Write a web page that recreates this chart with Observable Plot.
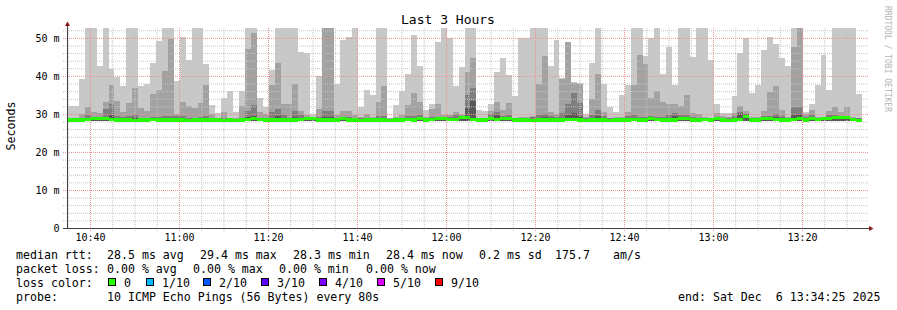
<!DOCTYPE html>
<html>
<head>
<meta charset="utf-8">
<script src="https://cdn.jsdelivr.net/npm/d3@7"></script>
<script src="https://cdn.jsdelivr.net/npm/@observablehq/plot@0.6"></script>
<style>
html,body{margin:0;padding:0;background:#fff;}
#chart{position:relative;width:897px;height:310px;overflow:hidden;background:#fff;}
#chart svg{position:absolute;left:0;top:0;}
</style>
</head>
<body>
<div id="chart"></div>
<script>
// ---------- data ----------
const title = "Last 3 Hours";
const yLabel = "Seconds";
const watermark = "RRDTOOL / TOBI OETIKER";
const startTime = new Date(Date.UTC(2025, 11, 6, 10, 34, 50));
const endTime = new Date(Date.UTC(2025, 11, 6, 13, 34, 50));
const stepSeconds = 80;
const yTicks = [0, 10, 20, 30, 40, 50];
const yMax = 52.6;
const smokeBase = 28.2;

// ping 10 (outermost smoke, lightest)
const ping10 = [32.2, 32.0, 39.3, 52.6, 52.6, 42.5, 52.6, 41.7, 39.6, 37.3,
 52.6, 52.6, 37.3, 38.0, 43.5, 49.1, 52.6, 52.6, 38.7, 50.3,
 44.1, 52.6, 52.6, 43.2, 32.3, 30.3, 34.3, 36.0, 30.5, 36.0,
 52.6, 52.6, 34.3, 31.8, 41.5, 52.6, 52.6, 52.6, 52.6, 46.4,
 46.1, 30.1, 40.0, 52.6, 52.6, 38.0, 49.4, 50.3, 52.6, 31.7,
 36.4, 34.9, 52.6, 52.6, 28.9, 32.3, 36.0, 40.6, 50.7, 42.5,
 31.1, 32.5, 49.0, 52.6, 49.9, 37.3, 42.4, 52.6, 52.6, 31.1,
 30.8, 32.7, 41.1, 44.6, 40.2, 34.6, 50.1, 50.1, 52.6, 52.6,
 52.6, 42.5, 49.4, 39.5, 48.9, 38.4, 38.2, 30.1, 43.5, 52.6,
 38.0, 31.7, 30.5, 34.9, 37.7, 52.6, 52.6, 45.2, 50.1, 52.6,
 40.6, 47.6, 37.7, 52.6, 52.6, 45.0, 52.6, 52.6, 44.3, 32.7,
 30.3, 30.3, 34.6, 46.1, 50.1, 35.4, 37.5, 46.9, 50.3, 48.3,
 44.8, 42.5, 52.6, 52.6, 30.5, 32.7, 37.5, 45.4, 36.2, 52.6,
 52.6, 52.6, 52.6, 35.2];
// ping 9
const ping9 = [29.0, 28.9, 29.9, 31.7, 30.6, 30.2, 33.2, 37.5, 33.3, 30.6,
 33.0, 36.9, 31.5, 30.9, 35.3, 36.4, 41.2, 49.6, 30.0, 33.2,
 32.2, 31.5, 33.0, 37.5, 30.1, 29.0, 30.5, 29.0, 28.8, 32.0,
 47.2, 51.4, 30.5, 29.9, 37.7, 43.5, 32.7, 32.7, 38.0, 30.8,
 29.6, 28.9, 31.4, 52.6, 52.6, 29.6, 30.8, 30.8, 29.6, 29.2,
 30.1, 29.2, 33.2, 37.3, 28.8, 29.3, 29.6, 32.3, 35.4, 33.2,
 29.2, 31.4, 32.7, 29.6, 29.8, 30.5, 30.0, 40.9, 44.8, 29.0,
 28.9, 30.8, 33.2, 31.1, 33.0, 29.0, 29.2, 29.2, 29.5, 38.0,
 45.3, 30.5, 30.1, 39.3, 48.8, 38.2, 38.0, 29.2, 34.0, 40.4,
 30.5, 29.0, 29.2, 29.2, 30.5, 37.5, 45.4, 43.2, 34.3, 36.1,
 33.2, 32.7, 32.5, 32.0, 34.9, 30.3, 30.0, 29.2, 29.0, 30.3,
 29.4, 29.2, 30.3, 32.0, 30.8, 29.2, 29.2, 30.8, 35.8, 37.3,
 31.1, 29.1, 47.5, 52.6, 29.9, 31.1, 29.2, 29.2, 30.8, 31.7,
 30.5, 31.7, 29.1, 29.0];
// ping 8
const ping8 = [28.8, 28.7, 28.9, 29.6, 29.3, 29.2, 31.4, 32.7, 29.5, 29.2,
 29.4, 29.8, 29.0, 28.9, 29.2, 29.3, 29.4, 29.4, 29.5, 29.4,
 29.0, 29.0, 29.3, 29.5, 29.0, 28.8, 28.9, 28.8, 28.7, 29.0,
 30.8, 32.3, 29.0, 28.9, 30.4, 31.4, 29.6, 29.0, 30.8, 29.6,
 29.0, 28.7, 29.3, 30.9, 30.9, 29.0, 29.3, 29.3, 29.0, 28.9,
 29.0, 28.8, 29.5, 29.5, 28.6, 28.9, 29.0, 29.4, 29.4, 29.6,
 28.9, 29.2, 29.3, 29.0, 29.2, 29.6, 29.4, 35.0, 36.7, 28.8,
 28.7, 29.9, 30.4, 29.5, 29.6, 28.8, 28.9, 28.9, 29.2, 29.8,
 30.0, 29.4, 29.3, 30.3, 32.5, 35.4, 33.0, 28.9, 29.8, 31.1,
 29.5, 28.8, 28.9, 28.9, 29.4, 29.7, 29.1, 29.1, 29.5, 29.1,
 29.3, 29.8, 30.3, 29.6, 29.6, 29.2, 29.0, 28.9, 28.8, 29.3,
 29.0, 28.9, 29.4, 30.5, 29.8, 28.9, 28.9, 29.5, 29.4, 30.0,
 29.5, 28.9, 31.8, 31.8, 29.3, 29.6, 28.9, 28.9, 29.6, 29.7,
 29.2, 29.1, 28.9, 28.8];
// ping 7
const ping7 = [28.6, 28.6, 28.6, 28.9, 28.9, 28.8, 29.2, 29.8, 28.7, 28.6,
 28.8, 29.0, 28.6, 28.6, 28.7, 28.7, 28.8, 28.8, 28.7, 28.8,
 28.6, 28.6, 28.7, 28.8, 28.6, 28.6, 28.6, 28.6, 28.5, 28.6,
 29.2, 29.5, 28.6, 28.6, 29.0, 29.4, 28.8, 28.6, 29.2, 28.8,
 28.8, 28.6, 28.7, 29.3, 29.3, 28.6, 28.8, 28.7, 28.6, 28.5,
 28.6, 28.5, 28.8, 28.8, 28.5, 28.6, 28.6, 28.7, 28.8, 29.0,
 28.6, 28.7, 29.1, 28.8, 28.7, 29.0, 29.3, 31.5, 33.5, 28.6,
 28.6, 29.2, 29.6, 29.2, 29.0, 28.6, 28.6, 28.6, 28.7, 29.0,
 29.1, 28.8, 28.7, 29.0, 29.6, 30.2, 29.5, 28.6, 28.9, 29.4,
 28.8, 28.6, 28.6, 28.6, 28.8, 29.0, 28.8, 28.8, 29.0, 28.8,
 28.8, 29.0, 29.4, 29.0, 29.0, 28.8, 28.6, 28.7, 28.6, 29.0,
 28.6, 28.6, 28.8, 30.0, 29.9, 28.6, 28.6, 29.0, 29.1, 29.2,
 28.8, 28.6, 29.8, 30.0, 28.8, 29.0, 28.6, 29.0, 29.2, 29.2,
 29.0, 29.1, 28.6, 28.5];
// median rtt
const medianRtt = [28.4, 28.4, 28.4, 28.5, 28.8, 28.8, 28.7, 28.6, 28.4, 28.4,
 28.4, 28.3, 28.4, 28.4, 28.6, 28.4, 28.4, 28.4, 28.4, 28.4,
 28.3, 28.4, 28.4, 28.4, 28.4, 28.4, 28.3, 28.4, 28.3, 28.4,
 28.5, 28.8, 28.5, 28.4, 28.4, 28.4, 28.4, 28.4, 28.4, 28.5,
 28.8, 28.7, 28.4, 28.4, 28.4, 28.4, 28.7, 28.4, 28.4, 28.3,
 28.4, 28.4, 28.4, 28.4, 28.3, 28.4, 28.4, 28.5, 28.4, 28.8,
 28.4, 28.5, 28.9, 28.7, 28.5, 28.6, 29.0, 29.0, 28.6, 28.4,
 28.4, 28.8, 28.5, 28.9, 28.8, 28.4, 28.4, 28.4, 28.3, 28.4,
 28.4, 28.4, 28.4, 28.4, 28.5, 28.5, 28.4, 28.3, 28.4, 28.4,
 28.4, 28.3, 28.4, 28.4, 28.4, 28.5, 28.4, 28.4, 28.8, 28.5,
 28.4, 28.4, 28.4, 28.8, 28.7, 28.4, 28.4, 28.5, 28.4, 28.8,
 28.4, 28.3, 28.4, 28.5, 29.4, 28.4, 28.4, 28.7, 28.9, 28.5,
 28.4, 28.4, 28.5, 28.8, 28.4, 28.7, 28.5, 28.9, 28.9, 29.0,
 29.0, 29.0, 28.5, 28.3];

// legend texts
const legendLabels = ["median rtt:", "packet loss:", "loss color:", "probe:"];
const rttStats = ["28.5 ms avg", "29.4 ms max", "28.3 ms min", "28.4 ms now", "0.2 ms sd", "175.7", "am/s"];
const lossStats = ["0.00 % avg", "0.00 % max", "0.00 % min", "0.00 % now"];
const lossColorLabels = ["0", "1/10", "2/10", "3/10", "4/10", "5/10", "9/10"];
const lossColors = ["#26ff00", "#00b8ff", "#0059ff", "#5e00ff", "#7e00ff", "#dd00ff", "#ff0000"];
const probeText = "10 ICMP Echo Pings (56 Bytes) every 80s";
const endText = "end: Sat Dec\u00a0\u00a06 13:34:25 2025";

// ---------- build ----------
const rows = ping10.map((v, i) => ({
  t: new Date(startTime.getTime() + i * stepSeconds * 1000),
  p10: v, p9: ping9[i], p8: ping8[i], p7: ping7[i], med: medianRtt[i]
}));
// closing point so the last step keeps its full width
const last = rows[rows.length - 1];
rows.push({...last, t: new Date(last.t.getTime() + stepSeconds * 1000)});

const allFive = d3.utcMinute.every(5).range(startTime, endTime);
const majorX = allFive.filter(d => d.getUTCMinutes() % 20 === 0);
const minorX = allFive.filter(d => d.getUTCMinutes() % 20 !== 0);
const hLines = d3.range(2, yMax, 2);
const majorY = hLines.filter(v => v % 10 === 0);
const minorY = hLines.filter(v => v % 10 !== 0);

const smoke = (key, color) => Plot.areaY(rows, {
  x: "t", y1: () => smokeBase, y2: key, fill: color, curve: "step-after", shapeRendering: "crispEdges"
});

const font = "'DejaVu Sans Mono', monospace";

const chart = Plot.plot({
  width: 897, height: 310,
  marginLeft: 67, marginRight: 29, marginTop: 28, marginBottom: 82,
  x: {type: "utc", domain: [startTime, endTime]},
  y: {domain: [0, yMax]},
  style: {fontFamily: font, fontSize: "10px", background: "transparent", color: "#000"},
  marks: [
    smoke("p10", "#c8c8c8"),
    smoke("p9", "#a2a2a2"),
    smoke("p8", "#7e7e7e"),
    smoke("p7", "#585858"),
    Plot.ruleY(minorY, {stroke: "#c4c4c4", strokeDasharray: "1,1", insetLeft: -4}),
    Plot.ruleX(minorX, {stroke: "#c4c4c4", strokeDasharray: "1,1", insetBottom: -4}),
    Plot.ruleY(majorY, {stroke: "#ee9090", strokeDasharray: "1,1", insetLeft: -4}),
    Plot.ruleX(majorX, {stroke: "#ee9090", strokeDasharray: "1,1", insetBottom: -4}),
    Plot.areaY(rows, {x: "t", y1: d => d.med - 0.4, y2: d => d.med + 0.4, fill: "#26ff00", curve: "step-after", shapeRendering: "crispEdges"}),
    Plot.ruleY([0], {stroke: "#404040", insetLeft: -4, insetRight: -2}),
    Plot.ruleX([startTime], {stroke: "#404040", insetTop: -4}),
    Plot.dot([startTime], {x: d => d, y: () => yMax, dy: -4, symbol: "triangle", r: 1.9, fill: "#8b1a1a", stroke: "none"}),
    Plot.dot([endTime], {x: d => d, y: () => 0, dx: 2, symbol: "triangle", rotate: 90, r: 1.9, fill: "#8b1a1a", stroke: "none"}),
    Plot.axisX(majorX, {tickFormat: d3.utcFormat("%H:%M"), tickSize: 0, tickPadding: 5, label: null, fontSize: 10}),
    Plot.axisY(yTicks, {tickFormat: d => d === 0 ? "0" : `${d} m`, tickSize: 0, tickPadding: 8, label: null, fontSize: 10})
  ]
});
document.getElementById("chart").append(chart);

// ---------- text overlay (title, units, legend) ----------
const ov = d3.select("#chart").append("svg")
  .attr("width", 897).attr("height", 310)
  .style("font-family", font);

ov.append("text").attr("x", 448).attr("y", 24).attr("text-anchor", "middle")
  .attr("font-size", 13).text(title);
ov.append("text").attr("transform", "translate(15,126) rotate(-90)").attr("text-anchor", "middle")
  .attr("font-size", 11.6).text(yLabel);
ov.append("text").attr("transform", "translate(885,59) rotate(90)").attr("text-anchor", "middle")
  .attr("font-size", 8).attr("fill", "#b4b4b4").text(watermark);

const baselines = [258.5, 272.5, 286.5, 300.5];
const legendX = 16;
const lg = ov.append("g").attr("font-size", 11.6);
legendLabels.forEach((t, i) => lg.append("text").attr("x", legendX).attr("y", baselines[i]).text(t));
const rttX = [107, 200, 293, 386, 479, 555, 613];
rttStats.forEach((t, i) => lg.append("text").attr("x", rttX[i]).attr("y", baselines[0]).text(t));
const lossX = [107, 193, 279, 366];
lossStats.forEach((t, i) => lg.append("text").attr("x", lossX[i]).attr("y", baselines[1]).text(t));
const boxX = [108, 146, 203, 261, 319, 377, 435];
lossColorLabels.forEach((t, i) => {
  lg.append("rect").attr("x", boxX[i] + 0.5).attr("y", 278.5).attr("width", 7).attr("height", 7)
    .attr("fill", lossColors[i]).attr("stroke", "#000").attr("stroke-width", 1);
  lg.append("text").attr("x", boxX[i] + 16).attr("y", baselines[2]).text(t);
});
lg.append("text").attr("x", 107).attr("y", baselines[3]).text(probeText);
lg.append("text").attr("x", 678).attr("y", baselines[3]).text(endText);
</script>
</body>
</html>
